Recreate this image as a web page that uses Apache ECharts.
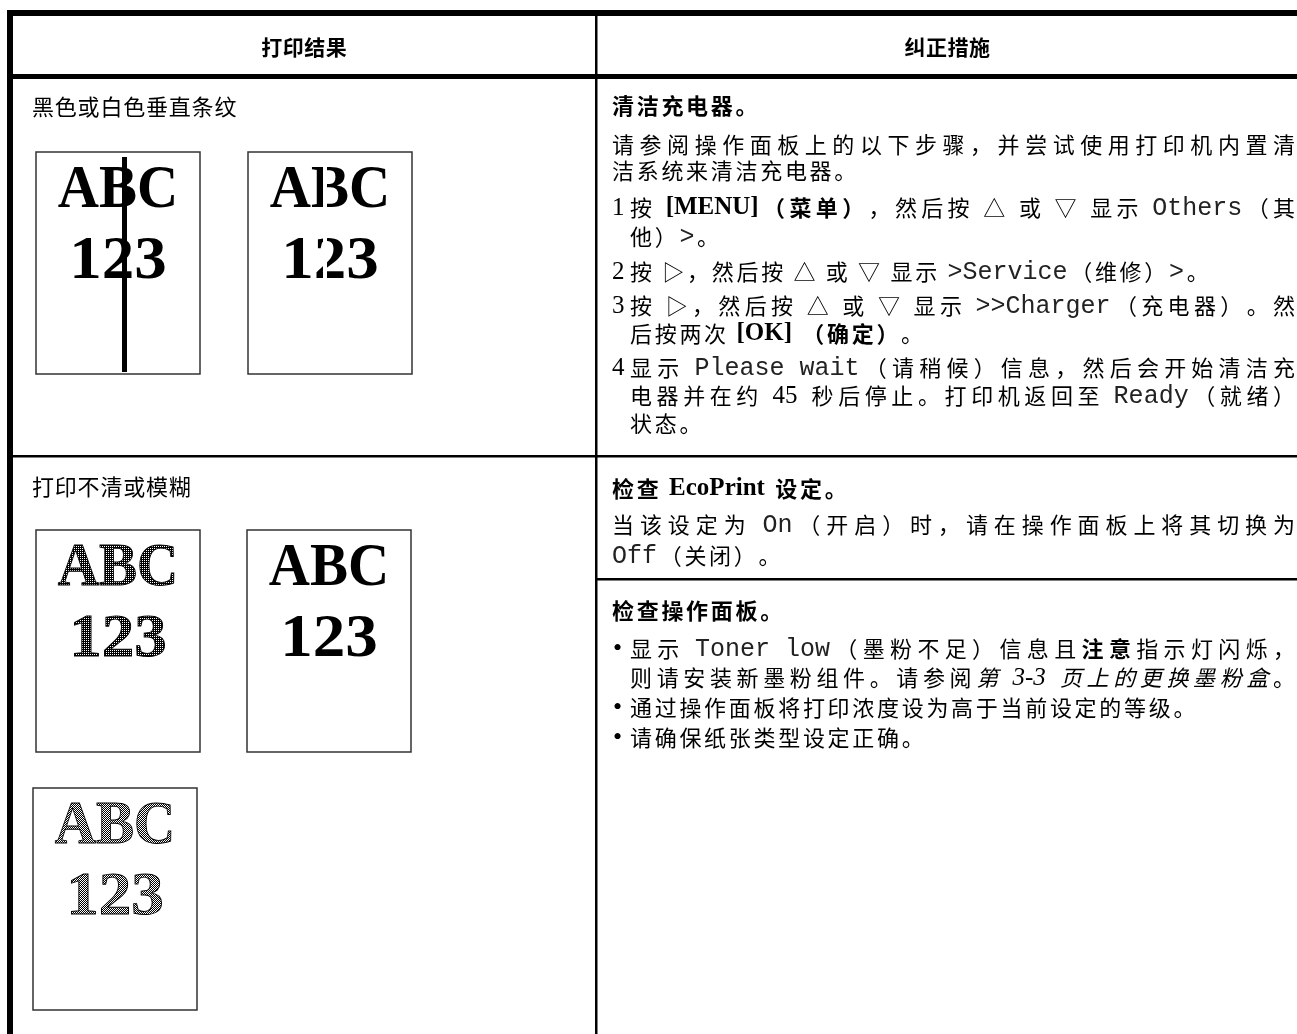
<!DOCTYPE html>
<html><head><meta charset="utf-8">
<script src="https://cdn.jsdelivr.net/npm/echarts@6/dist/echarts.min.js"></script>
<style>html,body{margin:0;padding:0;background:#fff}#c{width:1297px;height:1034px}</style>
</head><body><div id="c"></div>
<script>
// ---------------- DATA ----------------
const headers = ['打印结果', '纠正措施'];
const symptoms = ['黑色或白色垂直条纹', '打印不清或模糊'];
const sampleLines = ['ABC', '123'];
const samplePrints = [
  { row: 0, defect: 'blackLine' },
  { row: 0, defect: 'whiteLine' },
  { row: 1, defect: 'faint' },
  { row: 1, defect: 'none' },
  { row: 1, defect: 'mesh' }
];
const remedy1 = [
  { kind: 'title', runs: [['cjkb', '清洁充电器。']] },
  { kind: 'text', justify: true, runs: [['cjk', '请参阅操作面板上的以下步骤，并尝试使用打印机内置清']] },
  { kind: 'text', runs: [['cjk', '洁系统来清洁充电器。']] },
  { kind: 'step', mark: '1', justify: true, runs: [['cjk', '按 '], ['serb', '[MENU]'], ['cjkb', '（菜单）'], ['cjk', '，然后按 △ 或 ▽ 显示 '], ['mono', 'Others'], ['cjk', '（其']] },
  { kind: 'cont', runs: [['cjk', '他）'], ['mono', '>'], ['cjk', '。']] },
  { kind: 'step', mark: '2', runs: [['cjk', '按 ▷，然后按 △ 或 ▽ 显示 '], ['mono', '>Service'], ['cjk', '（维修）'], ['mono', '>'], ['cjk', '。']] },
  { kind: 'step', mark: '3', justify: true, runs: [['cjk', '按 ▷，然后按 △ 或 ▽ 显示 '], ['mono', '>>Charger'], ['cjk', '（充电器）。然']] },
  { kind: 'cont', runs: [['cjk', '后按两次 '], ['serb', '[OK]'], ['cjk', ' '], ['cjkb', '（确定）'], ['cjk', '。']] },
  { kind: 'step', mark: '4', justify: true, runs: [['cjk', '显示 '], ['mono', 'Please wait'], ['cjk', '（请稍候）信息，然后会开始清洁充']] },
  { kind: 'cont', justify: true, runs: [['cjk', '电器并在约 '], ['ser', '45'], ['cjk', ' 秒后停止。打印机返回至 '], ['mono', 'Ready'], ['cjk', '（就绪）']] },
  { kind: 'cont', runs: [['cjk', '状态。']] }
];
const remedy2 = [
  { kind: 'title', runs: [['cjkb', '检查 '], ['serb', 'EcoPrint'], ['cjkb', ' 设定。']] },
  { kind: 'text', justify: true, runs: [['cjk', '当该设定为 '], ['mono', 'On'], ['cjk', '（开启）时，请在操作面板上将其切换为']] },
  { kind: 'text', runs: [['mono', 'Off'], ['cjk', '（关闭）。']] }
];
const remedy3 = [
  { kind: 'title', runs: [['cjkb', '检查操作面板。']] },
  { kind: 'bullet', justify: true, runs: [['cjk', '显示 '], ['mono', 'Toner low'], ['cjk', '（墨粉不足）信息且'], ['cjkb', '注意'], ['cjk', '指示灯闪烁，']] },
  { kind: 'cont', justify: true, runs: [['cjk', '则请安装新墨粉组件。请参阅'], ['cjki', '第 '], ['seri', '3-3'], ['cjki', ' 页上的更换墨粉盒'], ['cjk', '。']] },
  { kind: 'bullet', runs: [['cjk', '通过操作面板将打印浓度设为高于当前设定的等级。']] },
  { kind: 'bullet', runs: [['cjk', '请确保纸张类型设定正确。']] }
];

// ---------------- LAYOUT / STYLE ----------------
const L = {
  W: 1297, H: 1034,
  borderX: 7, borderW: 6, topY: 10, topH: 6, headBotY: 74, headBotH: 5,
  colX: 595, colW: 2.5, rowY: 455, rowH: 2.5, subY: 578, subH: 2.5,
  headY: 47, leftX: 32, rightX: 612, indentX: 630, rightEdge: 1295,
  symptomY: [107, 487],
  remedy1Y: [106, 145, 171, 208, 237, 272, 306, 334, 368, 396, 424],
  remedy2Y: [489, 525, 556],
  remedy3Y: [611, 649, 678, 708, 738],
  boxes: [[36, 152], [248, 152], [36, 530], [247, 530], [33, 788]],
  boxW: 164, boxH: 222, lineOff: [39, 110]
};
const F = {
  cjk: '22px "Noto Sans CJK SC"',
  cjkb: 'bold 22px "Noto Sans CJK SC"',
  cjki: 'italic 22px "Noto Sans CJK SC"',
  left: '22px "Noto Sans CJK SC"',
  head: 'bold 21px "Noto Sans CJK SC"',
  mono: '25px "Liberation Mono"',
  ser: '25px "Liberation Serif"',
  serb: 'bold 25px "Liberation Serif"',
  seri: 'italic 25px "Liberation Serif"',
  bul: '26px "Liberation Serif"',
  big: 'bold 62px "Liberation Serif"'
};
const GAP = 2.7;
const INK = '#000';

const mctx = document.createElement('canvas').getContext('2d');
function tw(t, k) { mctx.font = F[k]; return mctx.measureText(t).width; }

function txt(t, x, y, k, extra) {
  return Object.assign({
    type: 'text', x: x, y: y, silent: true, z: 10,
    style: { text: t, font: F[k], fill: k === 'mono' ? '#222' : INK, align: 'left', verticalAlign: 'middle', textAlign: 'left', textVerticalAlign: 'middle' }
  }, extra || {});
}

function lineEls(runs, x, y, justify, center, gap) {
  const tk = [];
  runs.forEach(([k, t]) => {
    if (k.indexOf('cjk') === 0 || k === 'head' || k === 'left') { for (const ch of t) tk.push({ t: ch, k }); }
    else tk.push({ t, k });
  });
  tk.forEach(o => { o.w = tw(o.t, o.k); });
  const sum = tk.reduce((a, o) => a + o.w, 0);
  let s = gap === undefined ? GAP : gap;
  if (justify && tk.length > 1) s = (L.rightEdge - x - sum) / (tk.length - 1);
  let cx = x;
  if (center !== undefined) cx = center - (sum + s * (tk.length - 1)) / 2;
  const out = [];
  tk.forEach(o => {
    if (o.t.trim() !== '') out.push(txt(o.t, cx, y, o.k));
    cx += o.w + s;
  });
  return out;
}

function block(lines, ys) {
  let out = [];
  lines.forEach((ln, i) => {
    const y = ys[i];
    let x = L.rightX;
    if (ln.kind === 'step') { out.push(txt(ln.mark, L.rightX, y, 'ser')); x = L.indentX; }
    else if (ln.kind === 'bullet') { out.push(txt('•', L.rightX + 1, y, 'bul')); x = L.indentX; }
    else if (ln.kind === 'cont') { x = L.indentX; }
    out = out.concat(lineEls(ln.runs, x, y, !!ln.justify));
  });
  return out;
}

function rect(x, y, w, h, fill, z) {
  return { type: 'rect', silent: true, z: z || 5, shape: { x, y, width: w, height: h }, style: { fill } };
}

function pattern(size, cells) {
  const c = document.createElement('canvas');
  c.width = c.height = size;
  const g = c.getContext('2d');
  g.fillStyle = '#fff';
  cells.forEach(([a, b]) => g.fillRect(a, b, 1, 1));
  return { image: c, repeat: 'repeat' };
}
const patFaint = pattern(2, [[0, 0]]);
const patMesh = pattern(2, [[0, 0], [1, 1]]);

let els = [];
// table rules
els.push(rect(L.borderX, L.topY, L.W - L.borderX, L.topH, '#000', 20));
els.push(rect(L.borderX, L.topY, L.borderW, L.H - L.topY, '#000', 20));
els.push(rect(L.borderX, L.headBotY, L.W - L.borderX, L.headBotH, '#000', 20));
els.push(rect(L.colX, L.topY, L.colW, L.H - L.topY, '#000', 20));
els.push(rect(L.borderX, L.rowY, L.W - L.borderX, L.rowH, '#000', 20));
els.push(rect(L.colX, L.subY, L.W - L.colX, L.subH, '#000', 20));

// headers
const cellCenters = [(L.borderX + L.borderW + L.colX) / 2, (L.colX + L.colW + L.W) / 2];
headers.forEach((h, i) => { els = els.concat(lineEls([['head', h]], 0, L.headY, false, cellCenters[i], 0.5)); });
// symptoms
symptoms.forEach((s, i) => { els = els.concat(lineEls([['left', s]], L.leftX, L.symptomY[i], false, undefined, 0.8)); });
// remedies
els = els.concat(block(remedy1, L.remedy1Y), block(remedy2, L.remedy2Y), block(remedy3, L.remedy3Y));

// sample prints
samplePrints.forEach((p, i) => {
  const [bx, by] = L.boxes[i];
  const cx = bx + L.boxW / 2;
  els.push({ type: 'rect', silent: true, z: 2, shape: { x: bx, y: by, width: L.boxW, height: L.boxH }, style: { fill: '#fff', stroke: '#333', lineWidth: 1.5 } });
  sampleLines.forEach((t, j) => {
    const sx = j === 0 ? 0.92 : 1.05;
    els.push({ type: 'text', silent: true, z: 3, x: cx, y: by + L.lineOff[j], scaleX: sx,
      style: { text: t, font: F.big, fill: '#000', align: 'center', verticalAlign: 'middle', textAlign: 'center', textVerticalAlign: 'middle' } });
  });
  if (p.defect === 'blackLine') els.push(rect(bx + 86, by + 5, 5, L.boxH - 7, '#000', 4));
  if (p.defect === 'whiteLine') els.push(rect(bx + 75, by + 10, 4, 145, '#fff', 4));
  if (p.defect === 'faint' || p.defect === 'mesh') {
    els.push(rect(bx + 10, by + 8, L.boxW - 20, 145, p.defect === 'faint' ? patFaint : patMesh, 4));
    sampleLines.forEach((t, j) => {
      const sx = j === 0 ? 0.92 : 1.05;
      els.push({ type: 'text', silent: true, z: 5, x: cx, y: by + L.lineOff[j], scaleX: sx,
        style: { text: t, font: F.big, fill: 'rgba(0,0,0,0)', stroke: '#000', lineWidth: 0.9, align: 'center', verticalAlign: 'middle', textAlign: 'center', textVerticalAlign: 'middle' } });
    });
  }
});

const chart = echarts.init(document.getElementById('c'), null, { renderer: 'canvas' });
chart.setOption({ backgroundColor: '#fff', animation: false, graphic: { elements: els } });
</script></body></html>
